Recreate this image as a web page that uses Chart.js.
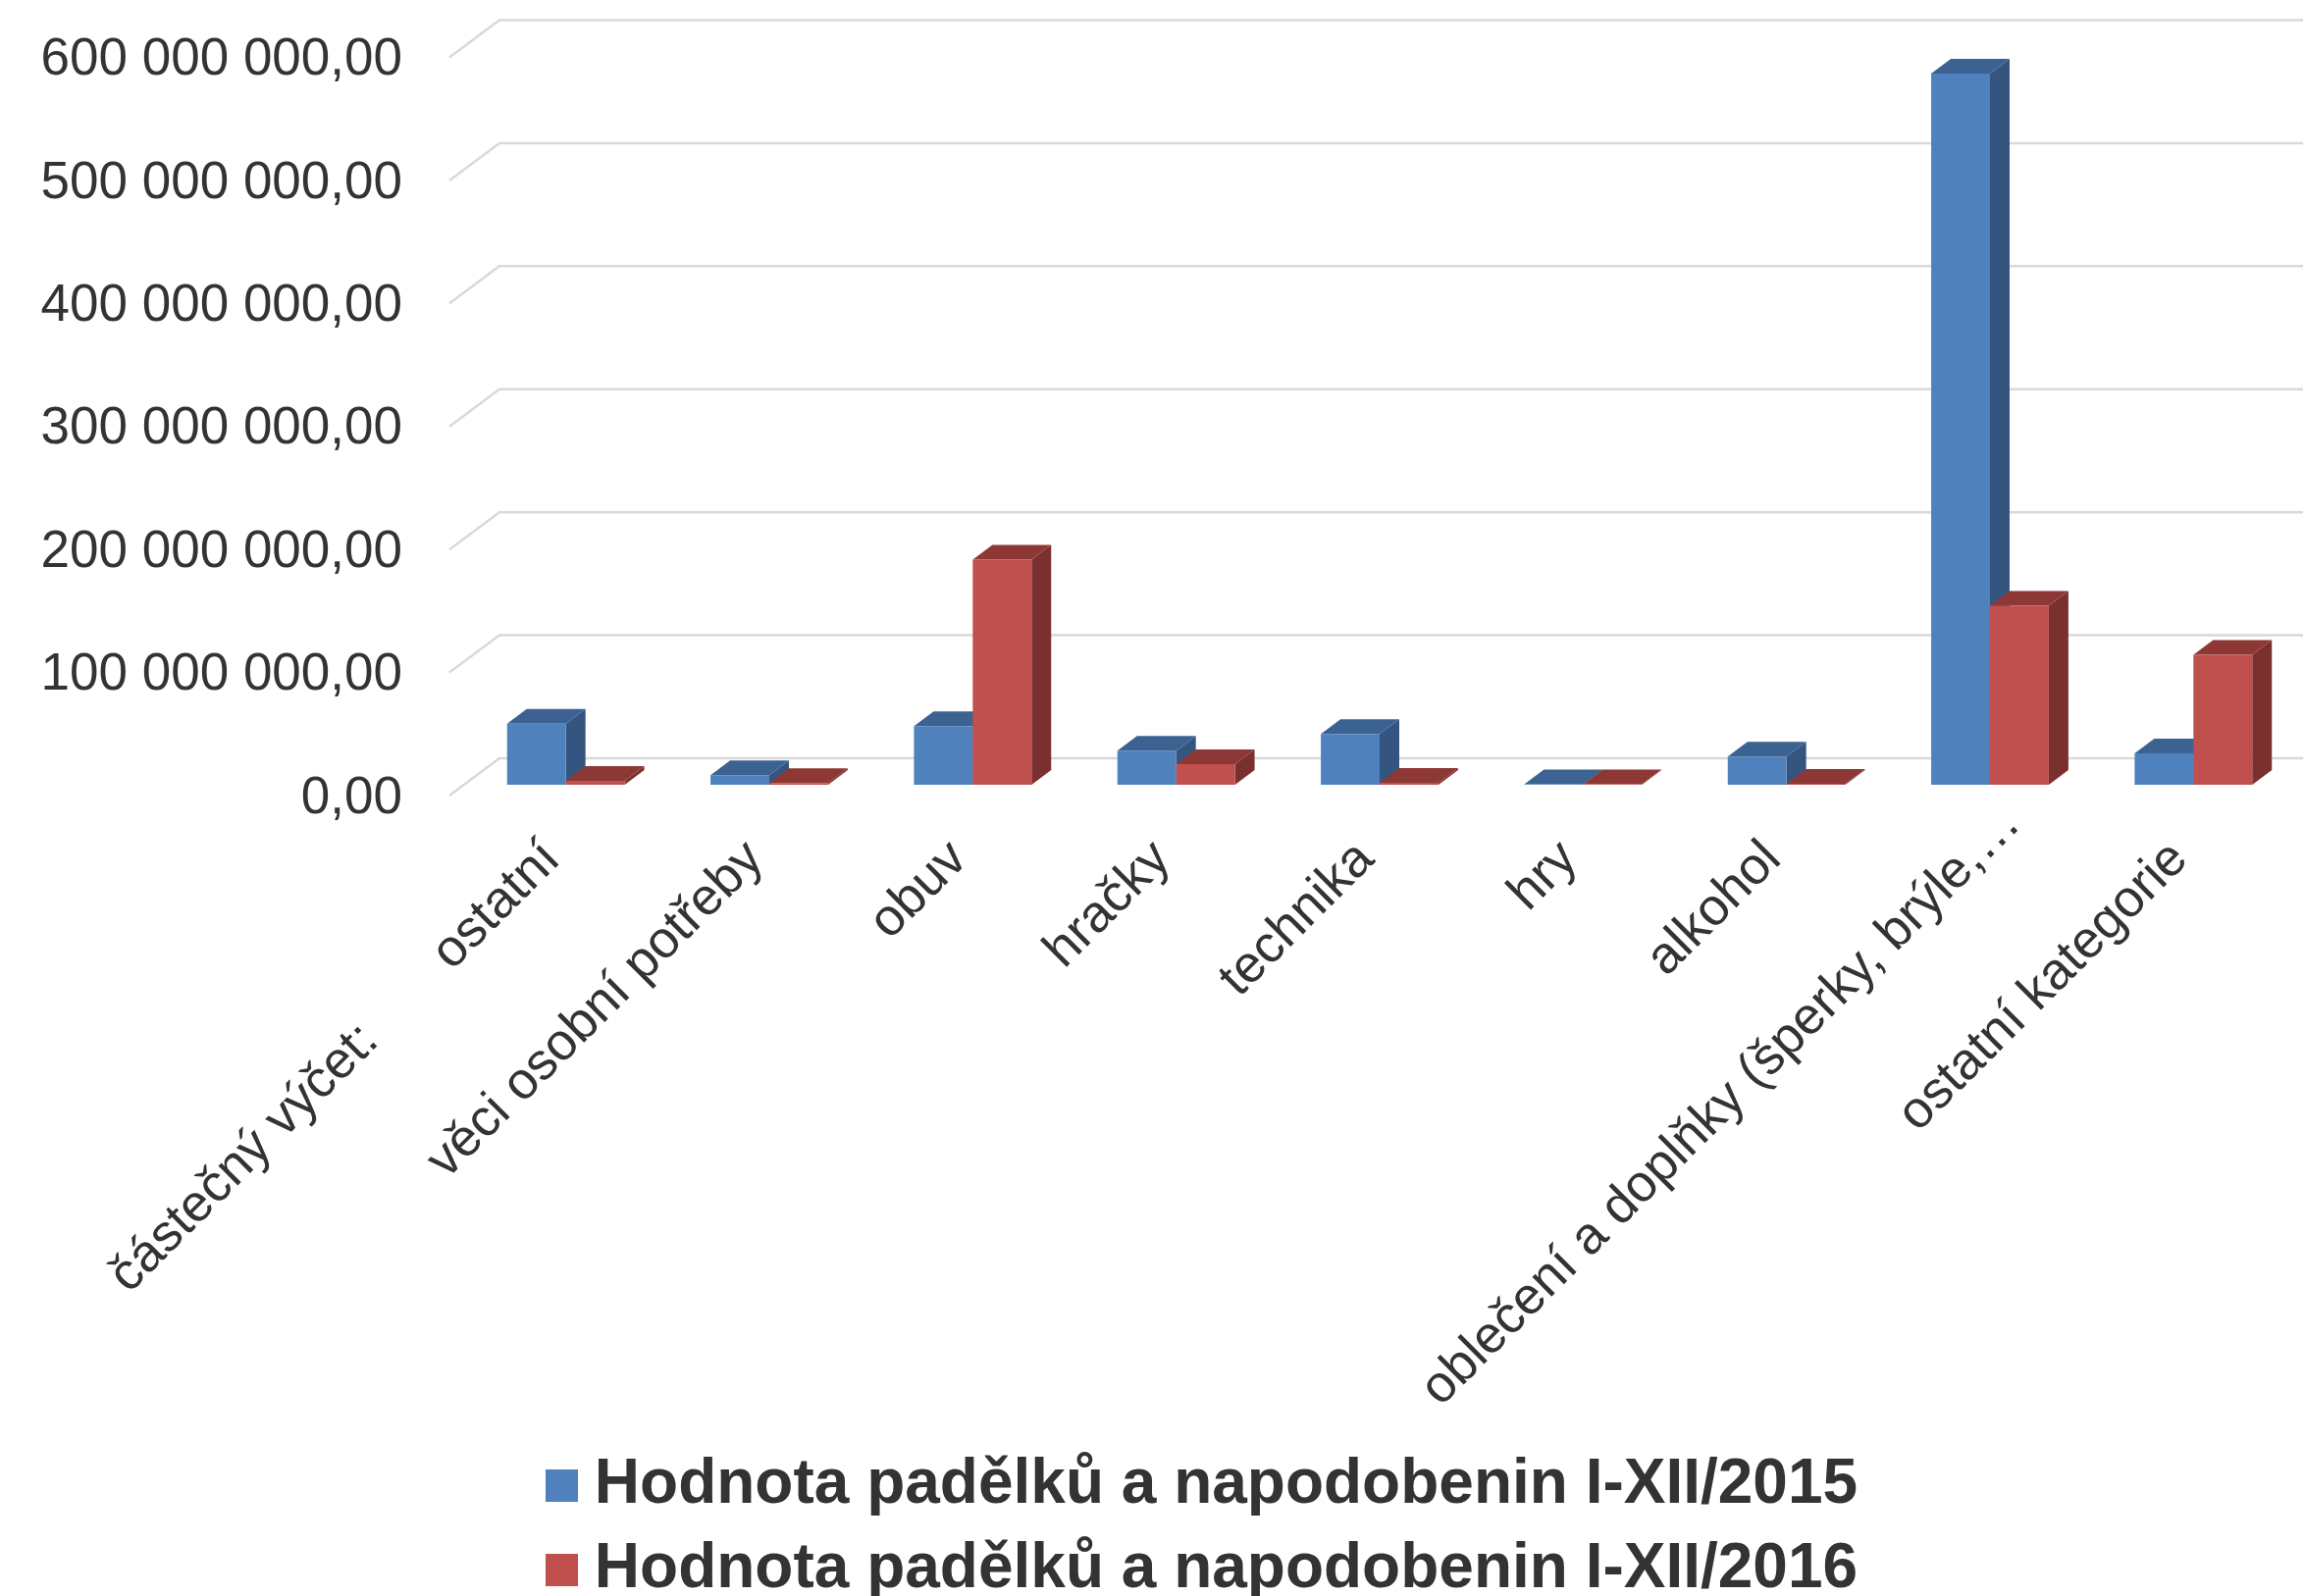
<!DOCTYPE html>
<html lang="cs">
<head>
<meta charset="utf-8">
<title>Hodnota padělků a napodobenin</title>
<style>
  html, body { margin: 0; padding: 0; background: #fff; overflow: hidden; }
  canvas { display: block; }
</style>
</head>
<body>
<canvas id="chart" width="2347" height="1627"></canvas>
<script src="https://cdn.jsdelivr.net/npm/chart.js@4/dist/chart.umd.js"></script>
<script>
const categories = [
  'částečný výčet:\u00a0\u00a0\u00a0\u00a0\u00a0\u00a0\u00a0ostatní',
  'věci osobní potřeby',
  'obuv',
  'hračky',
  'technika',
  'hry',
  'alkohol',
  'oblečení a doplňky (šperky, brýle,…',
  'ostatní kategorie'
];
const values2015 = [49700000, 7700000, 47700000, 27700000, 41300000, 300000, 23000000, 578000000, 25500000];
const values2016 = [3200000, 1300000, 183000000, 16800000, 1500000, 300000, 700000, 145500000, 105600000];
const seriesNames = ['Hodnota padělků a napodobenin I-XII/2015', 'Hodnota padělků a napodobenin I-XII/2016'];
const yTickLabels = ['0,00', '100 000 000,00', '200 000 000,00', '300 000 000,00', '400 000 000,00', '500 000 000,00', '600 000 000,00'];

const textColor = '#333333';
const fontName = '"Liberation Sans", Arial, sans-serif';
const colors = [
  { front: '#4F81BD', top: '#3C6291', side: '#33557F' },
  { front: '#C0504D', top: '#8E3836', side: '#7B3030' }
];

// 3d look: floor depth, where the bars sit on the floor, and how deep a bar is
const wall = { dx: 51, dy: -38 };
const barShift = { dx: 15, dy: -11 };
const barDepth = { dx: 20, dy: -15 };

function swatch(color) {
  const c = document.createElement('canvas');
  c.width = 33;
  c.height = 33;
  const g = c.getContext('2d');
  g.fillStyle = color;
  g.fillRect(0, 0, 33, 33);
  return c;
}

function face(ctx, color, pts) {
  ctx.fillStyle = color;
  ctx.beginPath();
  ctx.moveTo(pts[0][0], pts[0][1]);
  pts.slice(1).forEach(p => ctx.lineTo(p[0], p[1]));
  ctx.closePath();
  ctx.fill();
}

const fake3d = {
  id: 'fake3d',
  afterLayout(chart) {
    // legend sits off-centre and runs over the bottom edge in the original
    chart.legend.left += 70.5;
    chart.legend.right += 70.5;
    chart.legend.top += 15;
    // the long truncated label sits further up the diagonal than the others
    const longLabel = chart.scales.x.getLabelItems()[7];
    longLabel.options.translation[0] += 37;
    longLabel.options.translation[1] -= 36;
  },
  beforeDatasetsDraw(chart) {
    const { ctx, chartArea, scales } = chart;

    ctx.save();
    ctx.strokeStyle = '#D9D9D9';
    ctx.lineWidth = 2.5;
    scales.y.ticks.forEach(t => {
      const y = scales.y.getPixelForValue(t.value);
      ctx.beginPath();
      ctx.moveTo(chartArea.left, y);
      ctx.lineTo(chartArea.left + wall.dx, y + wall.dy);
      ctx.lineTo(chartArea.right + wall.dx, y + wall.dy);
      ctx.stroke();
    });
    ctx.restore();

    ctx.save();
    ctx.translate(barShift.dx, barShift.dy);
    [0, 1].forEach(i => {
      const meta = chart.getDatasetMeta(i);
      meta.data.forEach(bar => {
        const l = bar.x - bar.width / 2;
        const r = bar.x + bar.width / 2;
        const t = bar.y;
        const b = bar.base;
        face(ctx, colors[i].side, [[r, t], [r + barDepth.dx, t + barDepth.dy], [r + barDepth.dx, b + barDepth.dy], [r, b]]);
        face(ctx, colors[i].top, [[l, t], [l + barDepth.dx, t + barDepth.dy], [r + barDepth.dx, t + barDepth.dy], [r, t]]);
      });
      meta.controller.draw();
    });
    ctx.restore();
    return false;
  }
};

new Chart(document.getElementById('chart'), {
  type: 'bar',
  data: {
    labels: categories,
    datasets: [
      { label: seriesNames[0], data: values2015, backgroundColor: colors[0].front, pointStyle: swatch(colors[0].front) },
      { label: seriesNames[1], data: values2016, backgroundColor: colors[1].front, pointStyle: swatch(colors[1].front) }
    ]
  },
  options: {
    responsive: false,
    animation: false,
    layout: { padding: { top: 58.5, right: 23, left: 0, bottom: 0 } },
    datasets: { bar: { categoryPercentage: 0.578, barPercentage: 1 } },
    scales: {
      x: {
        grid: { display: false },
        border: { display: false },
        ticks: {
          autoSkip: false,
          minRotation: 45,
          maxRotation: 45,
          padding: 26,
          labelOffset: 1,
          color: textColor,
          font: { family: fontName, size: 53 }
        },
        afterFit(scale) {
          scale.height = 634;
          scale.paddingLeft = 0;
          scale.paddingRight = 0;
        }
      },
      y: {
        min: 0,
        max: 600000000,
        grid: { display: false },
        border: { display: false },
        ticks: {
          stepSize: 100000000,
          padding: 40,
          labelOffset: 3,
          color: textColor,
          font: { family: fontName, size: 53 },
          callback: (value, index) => yTickLabels[index]
        },
        afterFit(scale) {
          scale.width = 458;
          scale.paddingTop = 0;
          scale.paddingBottom = 0;
        }
      }
    },
    plugins: {
      tooltip: { enabled: false },
      legend: {
        position: 'bottom',
        maxWidth: 1450,
        labels: {
          usePointStyle: true,
          boxWidth: 2,
          padding: 22,
          color: textColor,
          font: { family: fontName, size: 64, weight: 'bold' }
        }
      }
    }
  },
  plugins: [fake3d]
});
</script>
</body>
</html>
